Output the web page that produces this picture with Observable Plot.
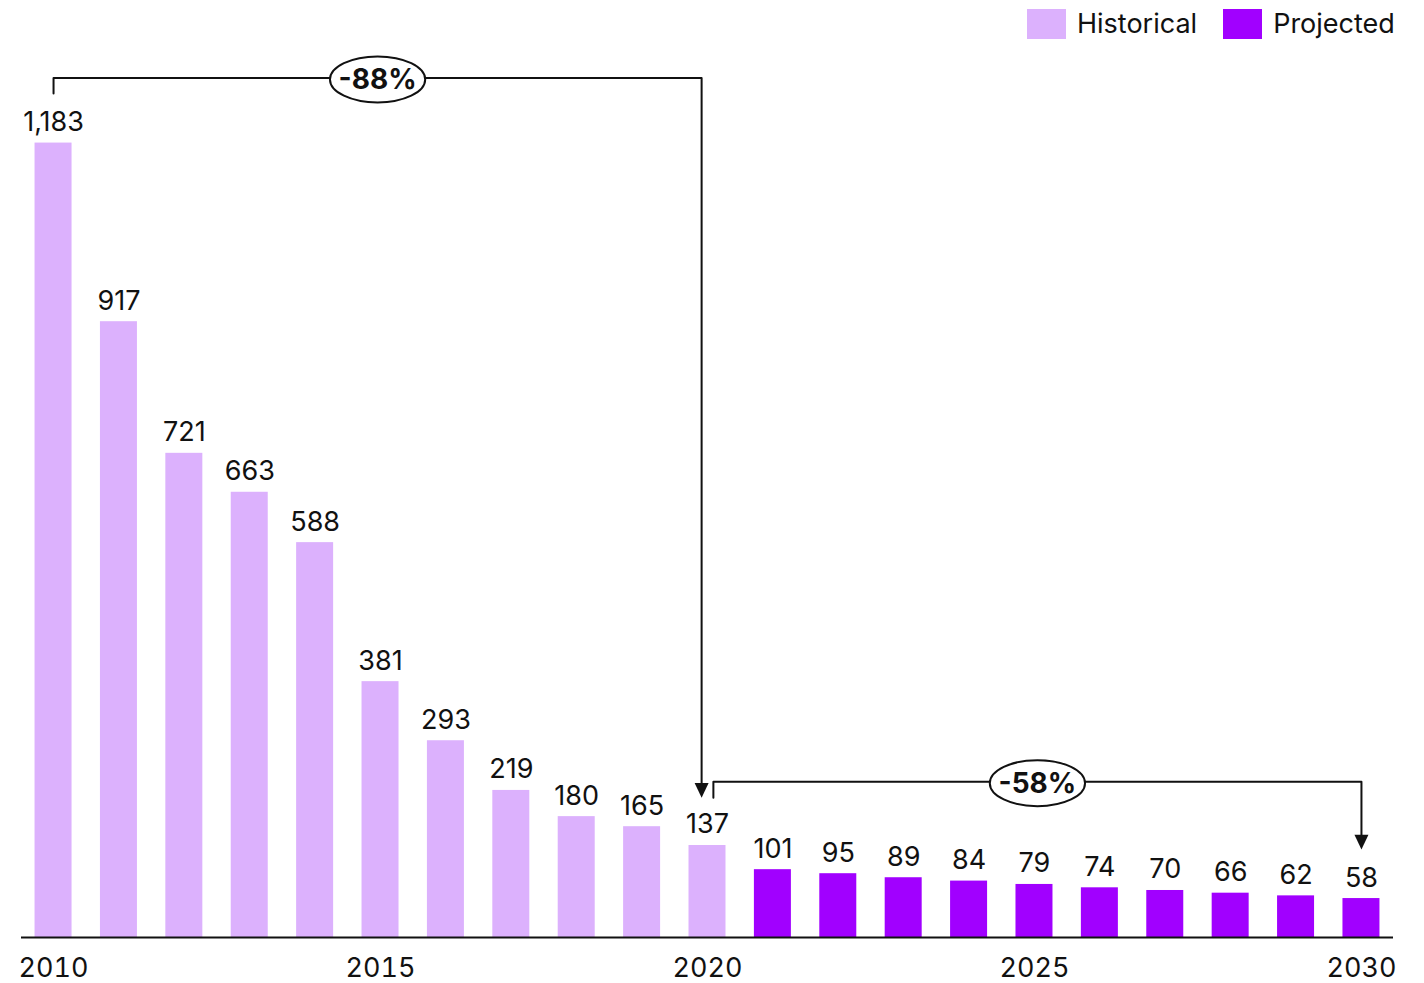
<!DOCTYPE html>
<html>
<head>
<meta charset="utf-8">
<script src="https://cdn.jsdelivr.net/npm/d3@7"></script>
<script src="https://cdn.jsdelivr.net/npm/@observablehq/plot@0.6"></script>
<style>
  html, body { margin: 0; padding: 0; background: #fff; }
  #wrap { position: relative; width: 1424px; height: 983px; font-family: Inter, "Noto Sans", sans-serif; color: #111; }
  #legend { position: absolute; top: 7px; left: 1027px; display: flex; align-items: center; font-size: 27px; }
  #legend .item { display: flex; align-items: center; margin-right: 26px; }
  #legend .item:last-child { margin-right: 0; }
  #legend .sw { width: 39px; height: 30px; margin-right: 11px; }
  #chart svg { display: block; }
</style>
</head>
<body>
<div id="wrap">
  <div id="chart"></div>
  <div id="legend"></div>
</div>
<script>
// Annual values, 2010–2020 historical, 2021–2030 projected
const years = [2010, 2011, 2012, 2013, 2014, 2015, 2016, 2017, 2018, 2019, 2020,
               2021, 2022, 2023, 2024, 2025, 2026, 2027, 2028, 2029, 2030];
const values = [1183, 917, 721, 663, 588, 381, 293, 219, 180, 165, 137,
                101, 95, 89, 84, 79, 74, 70, 66, 62, 58];
const series = ["Historical", "Projected"];
const seriesColors = ["#dcb1fd", "#a100ff"];
const tickYears = [2010, 2015, 2020, 2025, 2030];

// Change annotations: from year, to year, label
const changes = [
  {from: 2010, to: 2020, label: "-88%"},
  {from: 2020, to: 2030, label: "-58%"}
];

const data = years.map((year, i) => ({
  year,
  value: values[i],
  kind: year <= 2020 ? series[0] : series[1]
}));

// Bracket geometry (value units above the bars, small year offset at the shared 2020 end)
const shift = 0.09;
const bracketA = [
  {x: 2010, y: 1257}, {x: 2010, y: 1280}, {x: 2020 - shift, y: 1280}, {x: 2020 - shift, y: 215}
];
const bracketB = [
  {x: 2020 + shift, y: 208}, {x: 2020 + shift, y: 232}, {x: 2030, y: 232}, {x: 2030, y: 140}
];
const arrowTips = [
  {x: 2020 - shift, y: 208},
  {x: 2030, y: 131}
];
const pills = [
  {x: (2010 + 2020 - shift) / 2, y: 1280, label: changes[0].label},
  {x: (2020 + shift + 2030) / 2, y: 232, label: changes[1].label}
];

// Custom symbols: a down-pointing triangle whose tip is at the anchor, and an ellipse
const arrowHead = {
  draw(ctx, size) {
    const r = Math.sqrt(size / Math.PI);
    ctx.moveTo(0, 0);
    ctx.lineTo(-r, -r * 2.1);
    ctx.lineTo(r, -r * 2.1);
    ctx.closePath();
  }
};
const ellipse = {
  draw(ctx, size) {
    const ry = Math.sqrt(size / Math.PI);
    const rx = ry * 2.07;
    const k = 0.5523;
    ctx.moveTo(rx, 0);
    ctx.bezierCurveTo(rx, ry * k, rx * k, ry, 0, ry);
    ctx.bezierCurveTo(-rx * k, ry, -rx, ry * k, -rx, 0);
    ctx.bezierCurveTo(-rx, -ry * k, -rx * k, -ry, 0, -ry);
    ctx.bezierCurveTo(rx * k, -ry, rx, -ry * k, rx, 0);
    ctx.closePath();
  }
};

const chart = Plot.plot({
  width: 1424,
  height: 983,
  marginLeft: 21,
  marginRight: 31,
  marginTop: 64,
  marginBottom: 46,
  style: {fontFamily: "Inter, 'Noto Sans', sans-serif", fontSize: "27px", color: "#111", background: "#fff"},
  x: {domain: [2009.51, 2030.49]},
  y: {domain: [0, 1300], axis: null},
  color: {domain: series, range: seriesColors},
  marks: [
    Plot.rectY(data, {
      x1: d => d.year - 0.5,
      x2: d => d.year + 0.5,
      y: "value",
      fill: "kind",
      insetLeft: 14.2,
      insetRight: 14.2
    }),
    Plot.text(data, {
      x: "year",
      y: "value",
      text: d => d3.format(",")(d.value),
      lineAnchor: "bottom",
      dy: -12,
      fill: "#111",
      fontSize: 27
    }),
    Plot.ruleY([0], {stroke: "#111", strokeWidth: 2}),
    Plot.axisX({
      ticks: tickYears,
      tickFormat: d => String(d),
      tickSize: 0,
      tickPadding: 20,
      fontSize: 27,
      label: null
    }),
    Plot.line(bracketA, {x: "x", y: "y", stroke: "#111", strokeWidth: 2, curve: "linear"}),
    Plot.line(bracketB, {x: "x", y: "y", stroke: "#111", strokeWidth: 2, curve: "linear"}),
    Plot.dot(arrowTips, {x: "x", y: "y", symbol: arrowHead, r: 7, fill: "#111", stroke: "none"}),
    Plot.dot(pills, {x: "x", y: "y", symbol: ellipse, r: 23, dy: 1.5, fill: "#fff", stroke: "#111", strokeWidth: 2}),
    Plot.text(pills, {x: "x", y: "y", text: "label", dy: 2, fontWeight: "bold", fontSize: 28, fill: "#111"})
  ]
});
document.getElementById("chart").appendChild(chart);

// Legend
const legend = document.getElementById("legend");
series.forEach((name, i) => {
  const item = document.createElement("div");
  item.className = "item";
  const sw = document.createElement("span");
  sw.className = "sw";
  sw.style.background = seriesColors[i];
  const label = document.createElement("span");
  label.textContent = name;
  item.appendChild(sw);
  item.appendChild(label);
  legend.appendChild(item);
});
</script>
</body>
</html>
